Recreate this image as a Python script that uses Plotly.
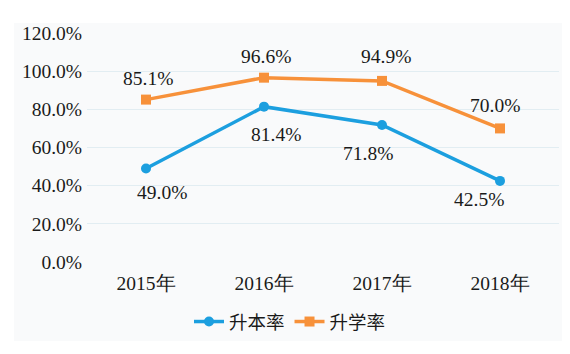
import plotly.graph_objects as go

categories = ["2015年", "2016年", "2017年", "2018年"]
shengben = [49.0, 81.4, 71.8, 42.5]   # 升本率
shengxue = [85.1, 96.6, 94.9, 70.0]   # 升学率
y_ticks = [0, 20, 40, 60, 80, 100, 120]

BLUE = "#1c9fdf"
ORANGE = "#f7913a"
SERIF = "Liberation Serif"
FS = 19.5

# label offsets (styling)
blue_dx = [16, 12, -14, -21]
blue_dy = [-24, -28, -29, -19]
orange_dx = [2, 2, 4, -5]
orange_dy = [21, 21, 24, 23]

fig = go.Figure()
fig.add_trace(go.Scatter(x=categories, y=shengben, name="升本率", mode="lines+markers",
                         line=dict(color=BLUE, width=3.5),
                         marker=dict(symbol="circle", size=10, color=BLUE)))
fig.add_trace(go.Scatter(x=categories, y=shengxue, name="升学率", mode="lines+markers",
                         line=dict(color=ORANGE, width=3.5),
                         marker=dict(symbol="square", size=10, color=ORANGE)))

for xs, ys, dxs, dys in [(categories, shengben, blue_dx, blue_dy),
                         (categories, shengxue, orange_dx, orange_dy)]:
    for c, v, dx, dy in zip(xs, ys, dxs, dys):
        fig.add_annotation(x=c, y=v, text=f"{v:.1f}%", showarrow=False,
                           xshift=dx, yshift=dy,
                           font=dict(family=SERIF, size=FS, color="#1a1a1a"))

L, R, T, B = 87, 11, 33, 92
W, H = 570, 354
pw = W - L - R
ph = H - T - B
# light grey chart background panel
fig.add_shape(type="rect", xref="paper", yref="paper",
              x0=(14 - L) / pw, x1=(562 - L) / pw,
              y0=-(341 - (H - B)) / ph, y1=1 + (T - 23) / ph,
              fillcolor="#f9fafb", line=dict(width=0), layer="below")

fig.update_layout(
    width=W, height=H,
    margin=dict(l=L, r=R, t=T, b=B),
    paper_bgcolor="white",
    plot_bgcolor="rgba(0,0,0,0)",
    showlegend=True,
    legend=dict(orientation="h", x=(290 - L) / pw, xanchor="center",
                y=-(322 - (H - B)) / ph, yanchor="middle",
                font=dict(family="Noto Sans CJK SC", size=18.5, color="#1a1a1a"),
                bgcolor="rgba(0,0,0,0)", itemwidth=30),
    xaxis=dict(type="category", range=[-0.5, 3.5], showgrid=False, zeroline=False,
               showline=False, ticks="", tickfont=dict(family=SERIF, size=FS, color="#1a1a1a"),
               ticklabelstandoff=7),
    yaxis=dict(range=[0, 120], tickvals=y_ticks, ticktext=[f"{t:.1f}%" for t in y_ticks],
               showgrid=True, gridcolor="#e2edf2", gridwidth=1, zeroline=False,
               showline=False, ticks="", tickfont=dict(family=SERIF, size=FS, color="#1a1a1a"),
               ticklabelstandoff=4),
)

fig.write_html("out.html")
